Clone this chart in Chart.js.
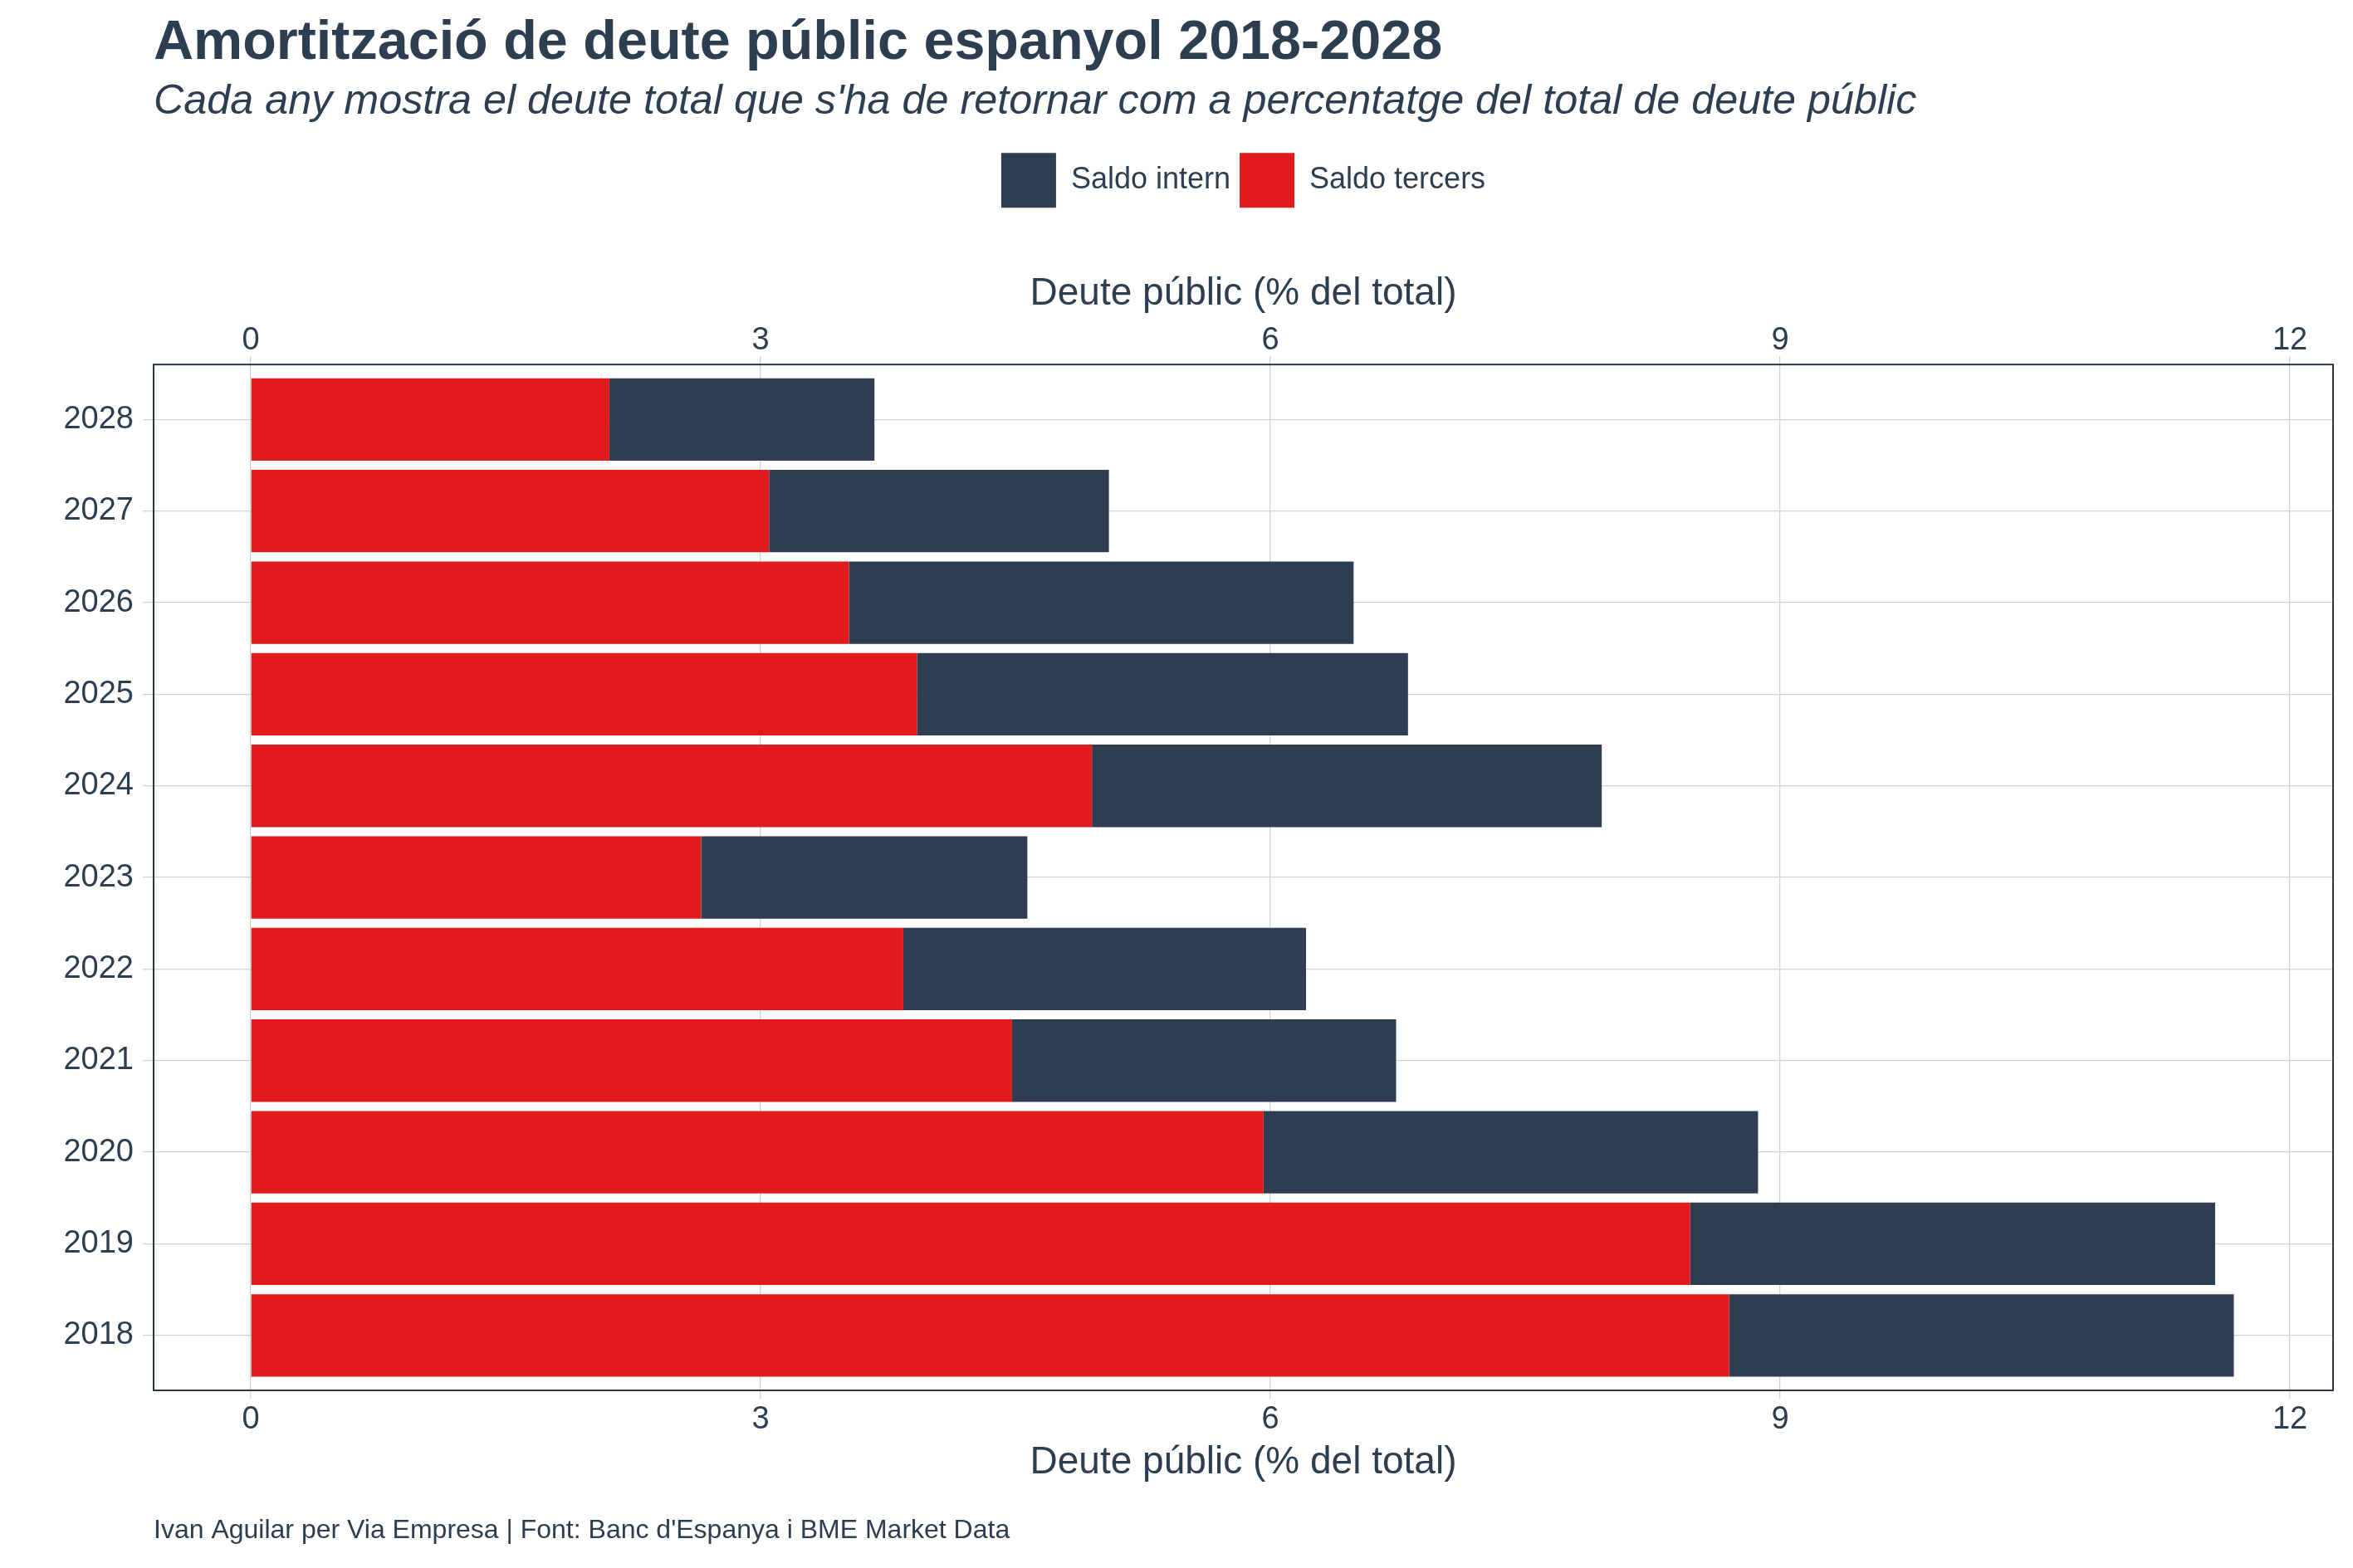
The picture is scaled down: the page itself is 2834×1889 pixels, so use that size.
<!DOCTYPE html>
<html>
<head>
<meta charset="utf-8">
<script src="https://cdn.jsdelivr.net/npm/chart.js@4/dist/chart.umd.min.js"></script>
<style>
  html, body { margin: 0; padding: 0; background: #ffffff; }
  canvas { display: block; }
</style>
</head>
<body>
<canvas id="c" width="2834" height="1889"></canvas>
<script>
// ---- data ----
const categories = ['2018', '2019', '2020', '2021', '2022', '2023', '2024', '2025', '2026', '2027', '2028'];
const saldoTercers = [8.70, 8.47, 5.96, 4.48, 3.84, 2.65, 4.95, 3.92, 3.52, 3.05, 2.11];
const saldoIntern  = [2.97, 3.09, 2.91, 2.26, 2.37, 1.92, 3.00, 2.89, 2.97, 2.00, 1.56];
const xTicks = [0, 3, 6, 9, 12];
const seriesNames = ['Saldo tercers', 'Saldo intern'];
const titleText = 'Amortització de deute públic espanyol 2018-2028';
const subtitleText = "Cada any mostra el deute total que s'ha de retornar com a percentatge del total de deute públic";
const axisTitle = 'Deute públic (% del total)';
const captionText = "Ivan Aguilar per Via Empresa | Font: Banc d'Espanya i BME Market Data";

// ---- style ----
const FONT = "'Liberation Sans', Arial, Helvetica, sans-serif";
const INK = '#2c3e50';
const RED = '#e11b1d';
const DARK = '#2e3e50';
const GRID = '#d3d3d3';
const X_MIN = -0.572, X_MAX = 12.254;

const panelPlugin = {
  id: 'panelAndCaption',
  afterDraw(chart) {
    const { ctx, chartArea } = chart;
    ctx.save();
    ctx.strokeStyle = '#2b3645';
    ctx.lineWidth = 2;
    ctx.strokeRect(chartArea.left, chartArea.top, chartArea.right - chartArea.left, chartArea.bottom - chartArea.top);
    ctx.fillStyle = INK;
    ctx.font = '32px ' + FONT;
    ctx.textBaseline = 'middle';
    ctx.textAlign = 'left';
    ctx.fillText(captionText, chartArea.left, 1844);
    ctx.restore();
  }
};

const xTickOpts = (pad) => ({
  color: INK,
  font: { family: FONT, size: 38, lineHeight: 1 },
  padding: pad,
  maxRotation: 0,
  autoSkip: false,
  callback: (v) => String(v)
});

new Chart(document.getElementById('c'), {
  type: 'bar',
  data: {
    datasets: [
      {
        label: seriesNames[0],
        data: saldoTercers.map((v, i) => ({ x: v, y: i })),
        backgroundColor: RED,
        borderWidth: 0,
        barPercentage: 0.9,
        categoryPercentage: 1,
        xAxisID: 'x', yAxisID: 'y'
      },
      {
        label: seriesNames[1],
        data: saldoIntern.map((v, i) => ({ x: v, y: i })),
        backgroundColor: DARK,
        borderWidth: 0,
        barPercentage: 0.9,
        categoryPercentage: 1,
        xAxisID: 'x', yAxisID: 'y'
      }
    ]
  },
  options: {
    indexAxis: 'y',
    responsive: false,
    animation: false,
    layout: { padding: { top: 13, left: 0, right: 24, bottom: 99 } },
    plugins: {
      title: {
        display: true, fullSize: false, text: titleText, align: 'start', color: INK,
        font: { family: FONT, size: 66.5, weight: 'bold', lineHeight: 1.2 },
        padding: { top: 0, bottom: 0 }
      },
      subtitle: {
        display: true, fullSize: false, text: subtitleText, align: 'start', color: INK,
        font: { family: FONT, size: 50.3, style: 'italic', lineHeight: 1.2 },
        padding: { top: 0, bottom: 20 }
      },
      legend: {
        display: true, fullSize: false, position: 'top', align: 'center', reverse: true,
        labels: { boxWidth: 66, boxHeight: 66, padding: 11, color: INK, font: { family: FONT, size: 36 } }
      },
      tooltip: { enabled: false }
    },
    scales: {
      x: {
        type: 'linear', position: 'bottom', min: X_MIN, max: X_MAX, stacked: true,
        afterBuildTicks: (s) => { s.ticks = xTicks.map(v => ({ value: v })); },
        ticks: xTickOpts(7),
        grid: { color: GRID, lineWidth: 1.3, tickLength: 10, drawTicks: true },
        border: { display: false },
        title: { display: true, text: axisTitle, color: INK, font: { family: FONT, size: 46, lineHeight: 1.2 }, padding: { top: 0, bottom: 0 } },
        afterFit: (s) => { s.height = 115; }
      },
      x2: {
        type: 'linear', position: 'top', min: X_MIN, max: X_MAX,
        afterBuildTicks: (s) => { s.ticks = xTicks.map(v => ({ value: v })); },
        ticks: xTickOpts(0),
        grid: { color: GRID, lineWidth: 1.3, tickLength: 10, drawTicks: true, drawOnChartArea: false },
        border: { display: false },
        title: { display: true, text: axisTitle, color: INK, font: { family: FONT, size: 46, lineHeight: 1.2 }, padding: { top: 67, bottom: 0 } },
        afterFit: (s) => { s.height = 179; }
      },
      y: {
        type: 'linear', position: 'left', min: -0.6, max: 10.6, stacked: true, offset: false,
        afterBuildTicks: (s) => { s.ticks = categories.map((c, i) => ({ value: i })); },
        ticks: {
          color: INK, font: { family: FONT, size: 38, lineHeight: 1 }, padding: 11, autoSkip: false,
          callback: (v) => categories[v]
        },
        grid: { color: GRID, lineWidth: 1.3, tickLength: 13, drawTicks: true, offset: false },
        border: { display: false },
        afterFit: (s) => { s.width = 185; }
      }
    }
  },
  plugins: [panelPlugin]
});
</script>
</body>
</html>
